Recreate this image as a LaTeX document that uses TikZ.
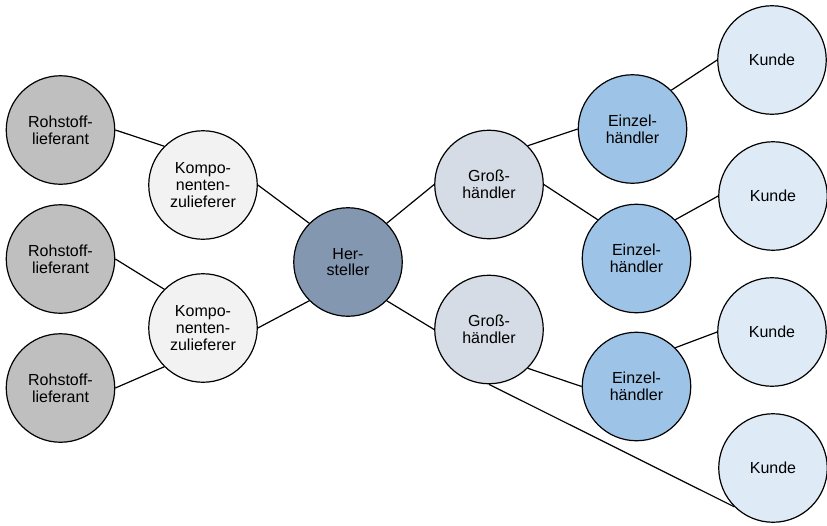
\documentclass[tikz,border=0pt]{standalone}
\usepackage{fontspec}
\setmainfont{Liberation Sans}
\definecolor{rohc}{HTML}{BFBFBF}
\definecolor{komc}{HTML}{F2F2F2}
\definecolor{herc}{HTML}{8497B0}
\definecolor{groc}{HTML}{D6DCE5}
\definecolor{einc}{HTML}{9DC3E6}
\definecolor{kunc}{HTML}{DEEBF7}
\begin{document}
\begin{tikzpicture}[x=1pt,y=-1pt,
  base/.style={circle, draw=black, line width=1.2pt, minimum size=108.5pt, inner sep=0pt, align=center, font=\fontsize{16}{16.7}\selectfont},
  roh/.style={base, fill=rohc},
  kom/.style={base, fill=komc},
  her/.style={base, fill=herc},
  gro/.style={base, fill=groc},
  ein/.style={base, fill=einc},
  kun/.style={base, fill=kunc},
  link/.style={draw=black, line width=1.2pt}]
\useasboundingbox (0,0) rectangle (827,525);
\node[roh] (r1) at (60.5,130) {Rohstoff-\\lieferant};
\node[roh] (r2) at (60.5,259) {Rohstoff-\\lieferant};
\node[roh] (r3) at (60.5,388) {Rohstoff-\\lieferant};
\node[kom] (k1) at (203,185) {Kompo-\\nenten-\\zulieferer};
\node[kom] (k2) at (203,328) {Kompo-\\nenten-\\zulieferer};
\node[her] (h) at (348,262) {Her-\\steller};
\node[gro] (g1) at (489,184.5) {Groß-\\händler};
\node[gro] (g2) at (489,329.5) {Groß-\\händler};
\node[ein] (e1) at (632.5,129) {Einzel-\\händler};
\node[ein] (e2) at (636.5,258.5) {Einzel-\\händler};
\node[ein] (e3) at (636.5,386.5) {Einzel-\\händler};
\node[kun] (u1) at (772,60) {Kunde};
\node[kun] (u2) at (773,196) {Kunde};
\node[kun] (u3) at (772,332) {Kunde};
\node[kun] (u4) at (773,468) {Kunde};
\draw[link] (r1.east) -- (k1.135);
\draw[link] (r2.east) -- (k2.135);
\draw[link] (r3.east) -- (k2.225);
\draw[link] (k1.east) -- (h.135);
\draw[link] (k2.east) -- (h.225);
\draw[link] (h.45) -- (g1.west);
\draw[link] (h.-45) -- (g2.west);
\draw[link] (g1.45) -- (e1.west);
\draw[link] (g1.east) -- (e2.135);
\draw[link] (g2.-45) -- (e3.west);
\draw[link] (g2.south) -- (u4.225);
\draw[link] (e1.45) -- (u1.west);
\draw[link] (e2.45) -- (u2.west);
\draw[link] (e3.45) -- (u3.west);
\end{tikzpicture}
\end{document}
